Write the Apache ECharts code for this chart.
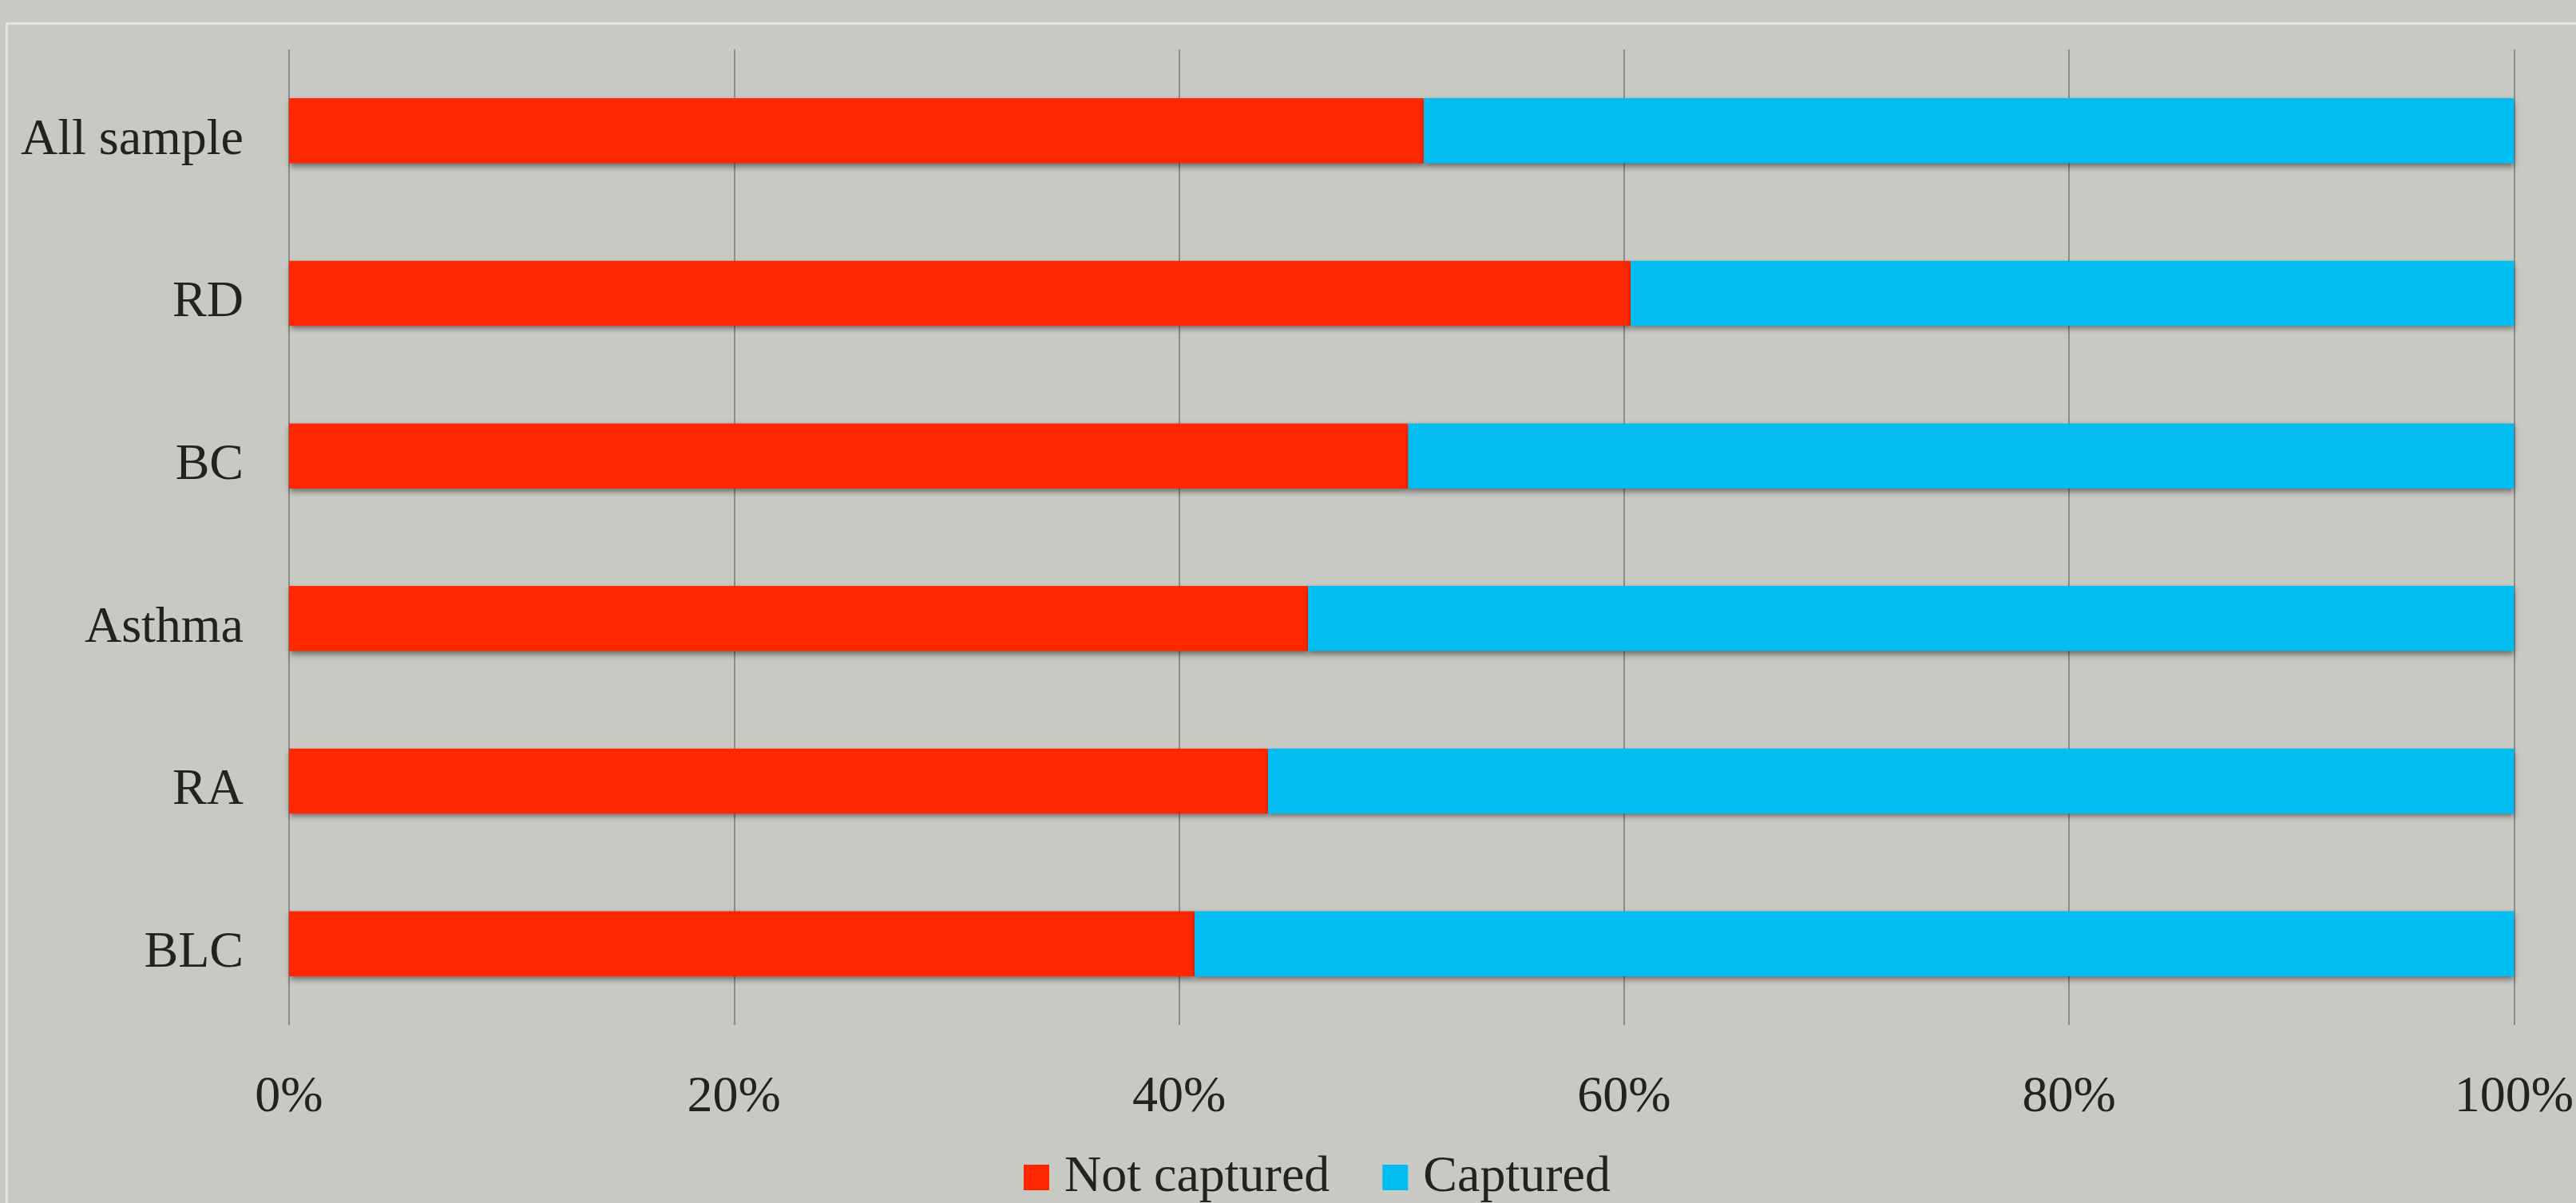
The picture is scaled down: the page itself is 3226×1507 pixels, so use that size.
<!DOCTYPE html>
<html>
<head>
<meta charset="utf-8">
<script src="https://cdn.jsdelivr.net/npm/echarts@6/dist/echarts.min.js"></script>
<style>
  html, body { margin: 0; padding: 0; background: #c9c9c4; }
  #chart { width: 3226px; height: 1507px; }
</style>
</head>
<body>
<div id="chart"></div>
<script>
const categories = ['All sample', 'RD', 'BC', 'Asthma', 'RA', 'BLC'];
const notCaptured = [51.0, 60.3, 50.3, 45.8, 44.0, 40.7];
const captured = [49.0, 39.7, 49.7, 54.2, 56.0, 59.3];
const xTicks = [0, 20, 40, 60, 80, 100];
const seriesNames = ['Not captured', 'Captured'];

const FONT = "'Liberation Serif', 'Times New Roman', serif";
const TXT = '#222222';
const shadow = { shadowColor: 'rgba(0,0,0,0.45)', shadowBlur: 7, shadowOffsetY: 4, shadowOffsetX: 1 };

const chart = echarts.init(document.getElementById('chart'));
chart.setOption({
  backgroundColor: '#c9c9c4',
  animation: false,
  graphic: [{
    type: 'rect', left: 6, top: 27, z: -1,
    shape: { width: 3300, height: 1600 },
    style: { fill: 'none', stroke: '#e3e3df', lineWidth: 3 }
  }],
  grid: { left: 362, right: 76, top: 62, bottom: 223, containLabel: false },
  legend: {
    left: 1277, top: 1438,
    itemWidth: 32, itemHeight: 32, itemGap: 66,
    icon: 'rect',
    data: seriesNames,
    textStyle: { fontFamily: FONT, fontSize: 64, color: TXT, padding: [0, 0, 0, 14] }
  },
  xAxis: {
    type: 'value', min: xTicks[0], max: xTicks[xTicks.length - 1], interval: 20,
    axisLine: { show: false }, axisTick: { show: false },
    splitLine: { show: true, lineStyle: { color: '#8c8c8c', width: 2 } },
    axisLabel: { formatter: '{value}%', fontFamily: FONT, fontSize: 64, color: TXT, margin: 59 }
  },
  yAxis: {
    type: 'category', data: categories, inverse: true,
    axisLine: { show: false }, axisTick: { show: false },
    splitLine: { show: false },
    axisLabel: { fontFamily: FONT, fontSize: 64, color: TXT, margin: 57, verticalAlign: 'top', lineHeight: 24 }
  },
  series: [
    { name: seriesNames[0], type: 'bar', stack: 'total', data: notCaptured, barCategoryGap: '60%',
      itemStyle: Object.assign({ color: '#ff2700' }, shadow) },
    { name: seriesNames[1], type: 'bar', stack: 'total', data: captured, barCategoryGap: '60%',
      itemStyle: Object.assign({ color: '#02bdf2' }, shadow) }
  ]
});
</script>
</body>
</html>
